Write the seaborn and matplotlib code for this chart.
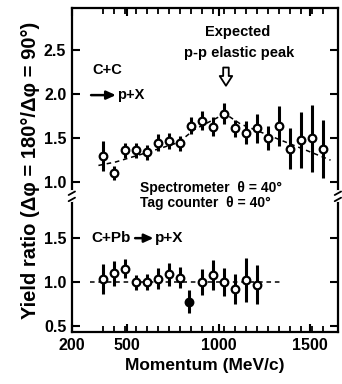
import matplotlib
matplotlib.use("Agg")
import matplotlib.pyplot as plt
import matplotlib.transforms as mtransforms
from matplotlib.ticker import FixedLocator
from matplotlib.lines import Line2D
import numpy as np
import pandas as pd
import seaborn as sns

sns.set_style('ticks')
plt.rcParams['font.family'] = ['Liberation Sans', 'DejaVu Sans']
plt.rcParams['font.weight'] = 'bold'
for k in ['text.color', 'axes.labelcolor', 'xtick.color', 'ytick.color', 'axes.edgecolor']:
    plt.rcParams[k] = 'black'

# C+C -> p+X (upper panel)
cc_p = [370, 430, 490, 550, 610, 670, 730, 790, 850, 910, 970,
        1030, 1090, 1150, 1210, 1270, 1330, 1390, 1450, 1510, 1570]
cc_y = [1.30, 1.10, 1.36, 1.36, 1.34, 1.45, 1.47, 1.44, 1.64, 1.70, 1.63,
        1.78, 1.61, 1.56, 1.61, 1.50, 1.64, 1.38, 1.48, 1.50, 1.38]
cc_err = [0.17, 0.08, 0.085, 0.085, 0.085, 0.095, 0.09, 0.09, 0.095, 0.11, 0.11,
          0.12, 0.10, 0.13, 0.17, 0.14, 0.23, 0.23, 0.32, 0.38, 0.33]
# dashed guide curve through C+C
cc_fit_p = [345, 440, 600, 780, 870, 1000, 1040, 1120, 1300, 1480, 1610]
cc_fit_y = [1.19, 1.23, 1.33, 1.45, 1.60, 1.74, 1.77, 1.66, 1.51, 1.36, 1.25]

# C+Pb -> p+X (lower panel)
pb_p = [370, 430, 490, 550, 610, 670, 730, 790, 840, 910, 970, 1030, 1090, 1150, 1210]
pb_y = [1.04, 1.10, 1.155, 1.00, 1.00, 1.04, 1.09, 1.05, 0.78, 1.00, 1.08, 1.00, 0.92, 1.03, 0.97]
pb_err = [0.17, 0.14, 0.11, 0.085, 0.09, 0.12, 0.13, 0.12, 0.13, 0.15, 0.17, 0.16, 0.17, 0.25, 0.22]
pb_filled = [False] * 8 + [True] + [False] * 6
pb_fit_p = [300, 1340]
pb_fit_y = [1.0, 1.0]

lower_ticks = [0.5, 1.0, 1.5]
upper_ticks = [1.0, 1.5, 2.0, 2.5]
OFF = 1.136  # vertical shift of the upper panel (broken axis)

cc = pd.DataFrame({'p': cc_p, 'y': np.array(cc_y) + OFF, 'err': cc_err})
pb = pd.DataFrame({'p': pb_p, 'y': pb_y, 'err': pb_err, 'filled': pb_filled})

fig = plt.figure(figsize=(3.42, 3.84), dpi=100)
ax = fig.add_axes([0.21, 0.135, 0.778, 0.844])

sns.lineplot(x=cc_fit_p, y=np.array(cc_fit_y) + OFF, ax=ax, color='black',
             lw=1.1, linestyle=(0, (3, 2.5)))
sns.lineplot(x=pb_fit_p, y=pb_fit_y, ax=ax, color='black',
             lw=1.1, linestyle=(0, (3, 2.5)))

ax.errorbar(cc['p'], cc['y'], yerr=cc['err'], fmt='none', ecolor='black', elinewidth=2.2)
ax.errorbar(pb['p'], pb['y'], yerr=pb['err'], fmt='none', ecolor='black', elinewidth=2.2)
sns.scatterplot(data=cc, x='p', y='y', ax=ax, s=30, color='white',
                edgecolor='black', linewidth=1.6, zorder=5)
sns.scatterplot(data=pb[~pb['filled']], x='p', y='y', ax=ax, s=30, color='white',
                edgecolor='black', linewidth=1.6, zorder=5)
sns.scatterplot(data=pb[pb['filled']], x='p', y='y', ax=ax, s=30, color='black',
                edgecolor='black', linewidth=1.6, zorder=5)

ax.set_xlim(200, 1650)
ax.set_ylim(0.432, 4.114)

yt = lower_ticks + [v + OFF for v in upper_ticks]
ax.set_yticks(yt)
ax.set_yticklabels([f'{v:.1f}' for v in lower_ticks + upper_ticks])
ax.set_xticks([200, 500, 1000, 1500])
ax.set_xticklabels(['200', '500', '1000', '1500'])
ax.xaxis.set_minor_locator(FixedLocator(cc_p))
ax.tick_params(axis='both', which='major', direction='in', length=6, width=1.5,
               labelsize=11.5, top=True, right=True, pad=4)
ax.tick_params(axis='x', which='minor', direction='in', length=4, width=1.3,
               top=True, bottom=True)
for s in ax.spines.values():
    s.set_linewidth(1.6)
    s.set_color('black')

# axis break marks on both spines
tr = mtransforms.blended_transform_factory(ax.transAxes, ax.transData)
for xa in [0, 1]:
    ax.add_line(Line2D([xa, xa], [1.93, 2.02], transform=tr, color='white',
                       lw=3, clip_on=False, zorder=6))
    for yb in [1.94, 2.01]:
        ax.add_line(Line2D([xa - 0.012, xa + 0.012], [yb - 0.02, yb + 0.02], transform=tr,
                           color='black', lw=1.3, clip_on=False, zorder=7))

ax.set_xlabel('Momentum (MeV/c)', fontsize=12.5, fontweight='bold', labelpad=4)
ax.set_ylabel('Yield ratio (Δφ = 180°/Δφ = 90°)', fontsize=14.5, fontweight='bold', labelpad=3)

arrow_kw = dict(arrowstyle='-|>,head_width=0.25,head_length=0.55', color='black', lw=1.8,
                shrinkA=0, shrinkB=0)
ax.text(310, 3.41, 'C+C', fontsize=10.5, va='center', ha='left')
ax.annotate('', xy=(440, 3.125), xytext=(305, 3.125), arrowprops=arrow_kw)
ax.text(448, 3.125, 'p+X', fontsize=10.5, va='center', ha='left')
ax.text(305, 1.50, 'C+Pb', fontsize=11, va='center', ha='left')
ax.annotate('', xy=(645, 1.50), xytext=(545, 1.50), arrowprops=arrow_kw)
ax.text(655, 1.50, 'p+X', fontsize=11, va='center', ha='left')
ax.text(570, 2.07, 'Spectrometer  θ = 40°', fontsize=10, va='center', ha='left')
ax.text(570, 1.90, 'Tag counter  θ = 40°', fontsize=10, va='center', ha='left')
ax.text(1105, 3.84, 'Expected', fontsize=10.5, va='center', ha='center')
ax.text(1110, 3.60, 'p-p elastic peak', fontsize=10.5, va='center', ha='center')
ax.annotate('', xy=(1040, 3.20), xytext=(1040, 3.47),
            arrowprops=dict(arrowstyle='simple,head_width=0.9,head_length=0.7,tail_width=0.4',
                            fc='white', ec='black', lw=1.3))

fig.savefig('out.png', dpi=100)
